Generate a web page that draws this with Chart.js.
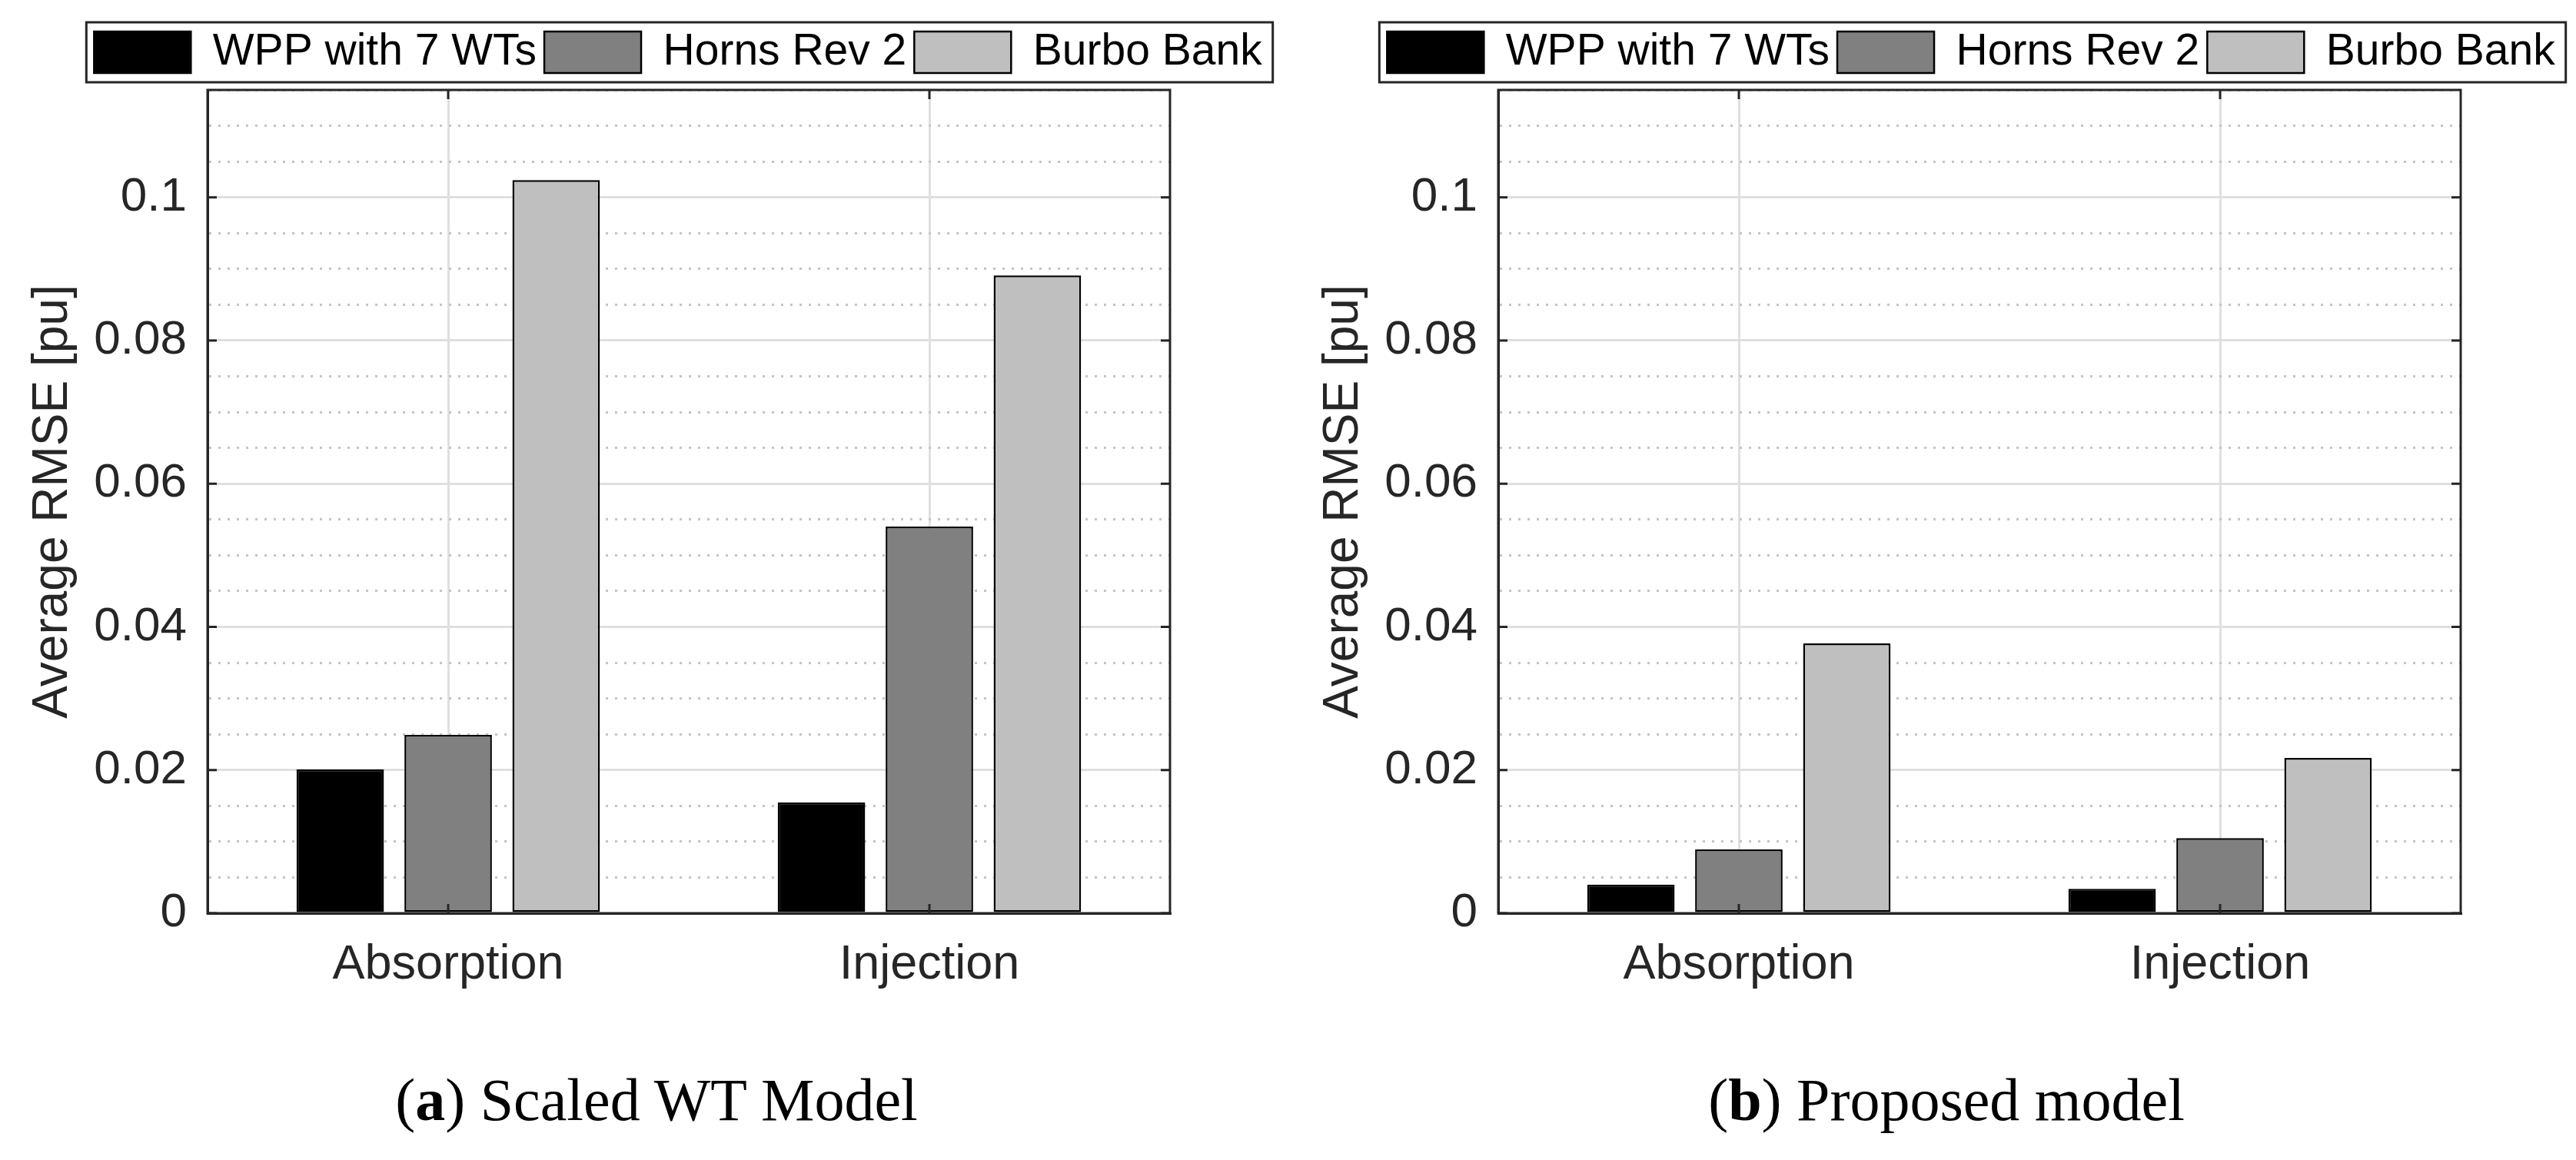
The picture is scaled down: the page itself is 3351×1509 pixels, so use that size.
<!DOCTYPE html>
<html>
<head>
<meta charset="utf-8">
<script src="https://cdn.jsdelivr.net/npm/chart.js@4.4.1/dist/chart.umd.min.js"></script>
<style>
  body { margin: 0; background: #fff; width: 3351px; height: 1509px; overflow: hidden; position: relative; }
  canvas { position: absolute; top: 0; }
  #chartA { left: 0; }
  #chartB { left: 1679px; }
  .caption { position: absolute; top: 1392px; width: 1000px; text-align: center;
    font-family: "Liberation Serif", serif; font-size: 78px; line-height: 78px; color: #000; }
</style>
</head>
<body>
<canvas id="chartA" width="1700" height="1330"></canvas>
<canvas id="chartB" width="1672" height="1330"></canvas>
<div class="caption" style="left: 354px">(<b>a</b>) Scaled WT Model</div>
<div class="caption" style="left: 2032px">(<b>b</b>) Proposed model</div>
<script>
// values
var categories = ['Absorption', 'Injection'];
var seriesNames = ['WPP with 7 WTs', 'Horns Rev 2', 'Burbo Bank'];

var scaledWpp = [0.0201, 0.0155];
var scaledHorns = [0.0249, 0.0540];
var scaledBurbo = [0.1024, 0.0891];

var proposedWpp = [0.0040, 0.0034];
var proposedHorns = [0.0089, 0.0105];
var proposedBurbo = [0.0377, 0.0217];

var yMax = 0.115;
var yMinorStep = 0.005;
var yTickValues = [0, 0.02, 0.04, 0.06, 0.08, 0.1];
var yTickLabels = ['0', '0.02', '0.04', '0.06', '0.08', '0.1'];

var seriesColors = ['#000000', '#808080', '#bfbfbf'];
var axisColor = '#262626';

Chart.defaults.font.family = '"Liberation Sans", Arial, sans-serif';

function tickIndex(v) {
	for (var i = 0; i < yTickValues.length; i++) {
		if (Math.abs(yTickValues[i] - v) < 1e-9) return i;
	}
	return -1;
}

// legend border, axes box and the little inward ticks matlab draws
var frame = {
	id: 'frame',
	beforeInit: function(chart) {
		var legend = chart.legend;
		if (!legend) return;
		var fit = legend.fit;
		legend.fit = function() {
			// keep the legend on one row, it is wider than the axes
			this.maxWidth = chart.width;
			fit.call(this);
			this.height += 10.5;
		};
	},
	afterUpdate: function(chart, args, opts) {
		var legend = chart.legend;
		var area = chart.chartArea;
		var center = (area.left + area.right) / 2 + (opts.legendShift || 0);
		legend.left = center - chart.width / 2;
		legend.right = center + chart.width / 2;
		legend.fit();
		legend.adjustHitBoxes();
	},
	afterDraw: function(chart) {
		var ctx = chart.ctx;
		var area = chart.chartArea;
		var boxes = chart.legend.legendHitBoxes;
		var first = boxes[0];
		var last = boxes[boxes.length - 1];
		var xs = chart.scales.x;
		var ys = chart.scales.y;

		ctx.save();
		ctx.strokeStyle = axisColor;
		ctx.lineWidth = 3;
		ctx.strokeRect(first.left - 10, first.top - 10.5,
			last.left + last.width - first.left + 24, first.height + 21);
		ctx.strokeRect(area.left, area.top, area.right - area.left, area.bottom - area.top);

		ctx.beginPath();
		yTickValues.forEach(function(v) {
			var py = ys.getPixelForValue(v);
			ctx.moveTo(area.left, py);
			ctx.lineTo(area.left + 12, py);
			ctx.moveTo(area.right, py);
			ctx.lineTo(area.right - 12, py);
		});
		categories.forEach(function(c, i) {
			var px = xs.getPixelForValue(i);
			ctx.moveTo(px, area.bottom);
			ctx.lineTo(px, area.bottom - 12);
			ctx.moveTo(px, area.top);
			ctx.lineTo(px, area.top + 12);
		});
		ctx.stroke();
		ctx.restore();
	}
};

function makeChart(id, series, rightPad, legendShift) {
	var ctx = document.getElementById(id).getContext('2d');
	return new Chart(ctx, {
		type: 'bar',
		data: {
			labels: categories,
			datasets: series.map(function(values, i) {
				return {
					label: seriesNames[i],
					data: values,
					backgroundColor: seriesColors[i],
					borderColor: '#000000',
					borderWidth: 2.5,
					borderSkipped: false,
					categoryPercentage: 0.673,
					barPercentage: 0.81
				};
			})
		},
		options: {
			responsive: false,
			animation: false,
			devicePixelRatio: 1,
			layout: { padding: { top: 29.5, right: rightPad, bottom: 0, left: 0 } },
			plugins: {
				legend: {
					position: 'top',
					fullSize: false,
					labels: { boxWidth: 126, boxHeight: 54, padding: 10, color: '#000', font: { size: 57 } }
				},
				tooltip: { enabled: false },
				frame: { legendShift: legendShift }
			},
			scales: {
				x: {
					afterFit: function(s) { s.height = 142; },
					grid: { offset: false, drawTicks: false, lineWidth: 3, color: '#dfdfdf' },
					border: { color: axisColor, width: 3 },
					ticks: { padding: 30, color: axisColor, font: { size: 63 } }
				},
				y: {
					min: 0,
					max: yMax,
					afterFit: function(s) { s.width = 270; },
					ticks: {
						stepSize: yMinorStep,
						autoSkip: false,
						padding: 27,
						color: axisColor,
						font: { size: 62 },
						callback: function(v) {
							var i = tickIndex(v);
							return i < 0 ? '' : yTickLabels[i];
						}
					},
					grid: {
						drawTicks: false,
						lineWidth: 3,
						color: function(c) {
							return (c.tick && tickIndex(c.tick.value) < 0) ? '#c4c4c4' : '#dfdfdf';
						}
					},
					border: {
						color: axisColor,
						width: 3,
						dash: function(c) {
							return (c.tick && tickIndex(c.tick.value) < 0) ? [3, 9] : [];
						}
					},
					title: {
						display: true,
						text: 'Average RMSE [pu]',
						color: axisColor,
						font: { size: 64 },
						padding: { top: 31, bottom: 0 }
					}
				}
			}
		},
		plugins: [frame]
	});
}

makeChart('chartA', [scaledWpp, scaledHorns, scaledBurbo], 178, -14);
makeChart('chartB', [proposedWpp, proposedHorns, proposedBurbo], 150, -11);
</script>
</body>
</html>
